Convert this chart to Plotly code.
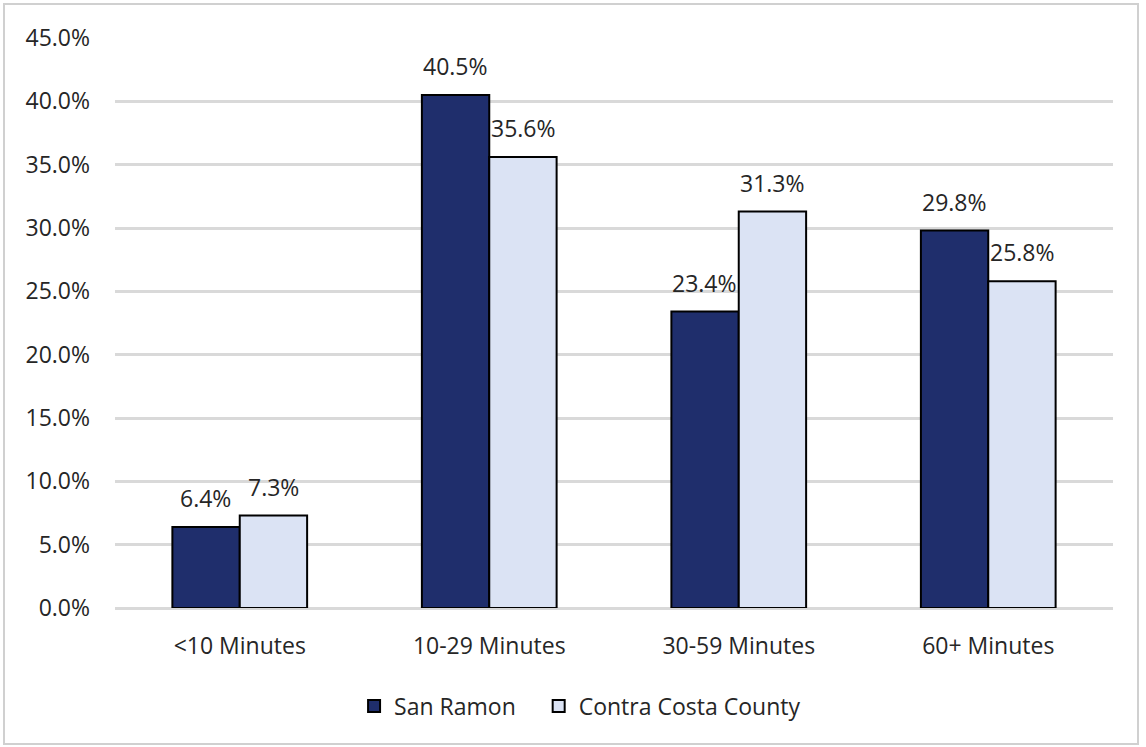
import plotly.graph_objects as go

categories = ["<10 Minutes", "10-29 Minutes", "30-59 Minutes", "60+ Minutes"]
san_ramon = [6.4, 40.5, 23.4, 29.8]
contra_costa = [7.3, 35.6, 31.3, 25.8]
y_ticks = [0, 5, 10, 15, 20, 25, 30, 35, 40, 45]

FONT = "Open Sans"
TEXT_COLOR = "#262626"
SIZE = 23

fig = go.Figure()
fig.add_trace(go.Bar(
    name="San Ramon\u00a0\u00a0\u00a0", x=categories, y=san_ramon,
    marker=dict(color="#1f2e6c", line=dict(color="#000000", width=2)),
))
fig.add_trace(go.Bar(
    name="Contra Costa County", x=categories, y=contra_costa,
    marker=dict(color="#dbe3f4", line=dict(color="#000000", width=2)),
))

# value labels above each bar, shifted to the bar's slot within its group
annotations = []
for series, shift in ((san_ramon, -34), (contra_costa, 34)):
    for cat, val in zip(categories, series):
        annotations.append(dict(
            x=cat, y=val, xref="x", yref="y", text=f"{val:.1f}%",
            showarrow=False, xshift=shift, yanchor="bottom", yshift=11,
            font=dict(family=FONT, size=SIZE, color=TEXT_COLOR),
        ))

fig.update_layout(
    width=1146, height=747,
    margin=dict(l=115, r=33, t=38, b=139),
    paper_bgcolor="white", plot_bgcolor="white",
    barmode="group", bargap=0.46, bargroupgap=0,
    font=dict(family=FONT, size=SIZE, color=TEXT_COLOR),
    showlegend=True,
    legend=dict(
        orientation="h", x=0.466, xanchor="center", y=-0.172, yanchor="middle",
        font=dict(family=FONT, size=SIZE, color=TEXT_COLOR),
        traceorder="normal",
    ),
    xaxis=dict(
        showgrid=False, showline=False, ticks="", ticklabelstandoff=22,
        tickfont=dict(family=FONT, size=SIZE, color=TEXT_COLOR),
    ),
    yaxis=dict(
        range=[0, 45], tickvals=y_ticks,
        ticktext=[f"{v:.1f}%" for v in y_ticks],
        showgrid=True, gridcolor="#d9d9d9", gridwidth=2.5,
        zeroline=True, zerolinecolor="#d9d9d9", zerolinewidth=2.5,
        showline=False, ticks="", ticklabelstandoff=24,
        tickfont=dict(family=FONT, size=SIZE, color=TEXT_COLOR),
    ),
    annotations=annotations,
    shapes=[dict(
        type="rect", xref="paper", yref="paper",
        x0=(4 - 115) / 998, x1=(1138 - 115) / 998,
        y0=(608 - 744) / 570, y1=(608 - 4) / 570,
        line=dict(color="#d0d0d0", width=2), fillcolor="rgba(0,0,0,0)",
        layer="below",
    )],
)

fig.write_html("out.html")
